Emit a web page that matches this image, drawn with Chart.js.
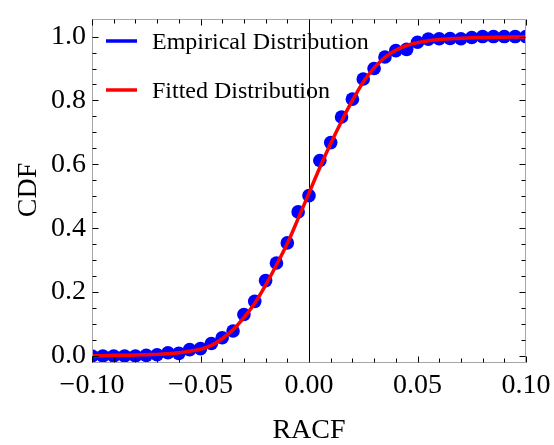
<!DOCTYPE html>
<html>
<head>
<meta charset="utf-8">
<script src="https://cdn.jsdelivr.net/npm/chart.js@4/dist/chart.umd.min.js"></script>
<style>
  html, body { margin: 0; padding: 0; background: #ffffff; }
  #wrap { width: 554px; height: 445px; position: relative; }
</style>
</head>
<body>
<div id="wrap"><canvas id="c" width="554" height="445"></canvas></div>
<script>
// ---- data ----
const racf = [-0.100,-0.095,-0.090,-0.085,-0.080,-0.075,-0.070,-0.065,-0.060,-0.055,
              -0.050,-0.045,-0.040,-0.035,-0.030,-0.025,-0.020,-0.015,-0.010,-0.005,
               0.000, 0.005, 0.010, 0.015, 0.020, 0.025, 0.030, 0.035, 0.040, 0.045,
               0.050, 0.055, 0.060, 0.065, 0.070, 0.075, 0.080, 0.085, 0.090, 0.095, 0.100];
const empiricalCDF = [0.000,0.000,0.000,0.000,0.000,0.002,0.004,0.010,0.008,0.020,
                      0.023,0.039,0.057,0.078,0.130,0.171,0.236,0.291,0.354,0.451,
                      0.502,0.612,0.668,0.748,0.804,0.867,0.900,0.936,0.956,0.960,
                      0.982,0.992,0.993,0.994,0.993,0.997,1.000,1.000,1.000,1.000,1.000];
const fittedCDF = [0.001,0.001,0.002,0.002,0.003,0.004,0.005,0.007,0.010,0.015,
                   0.021,0.033,0.054,0.082,0.120,0.165,0.222,0.285,0.352,0.430,
                   0.510,0.590,0.665,0.735,0.800,0.858,0.902,0.935,0.957,0.972,
                   0.981,0.987,0.991,0.993,0.995,0.996,0.997,0.998,0.998,0.999,0.999];
const xTicks = [-0.10, -0.05, 0.00, 0.05, 0.10];
const yTicks = [0.0, 0.2, 0.4, 0.6, 0.8, 1.0];
const xMinorStep = 0.01;
const yMinorStep = 0.05;
const seriesNames = ["Empirical Distribution", "Fitted Distribution"];
const axisTitles = { x: "RACF", y: "CDF" };

const SERIF = '"Liberation Serif", "DejaVu Serif", serif';

const toPts = (ys) => racf.map((x, i) => ({ x: x, y: ys[i] }));

const fmtX = (v) => {
  const s = Math.abs(v).toFixed(2);
  return (v < -1e-9 ? "\u2212" : "") + s;
};

const framePlugin = {
  id: 'frame',
  beforeDatasetsDraw(chart) {
    const { ctx, chartArea: a, scales: { x } } = chart;
    ctx.save();
    const x0 = Math.round(x.getPixelForValue(0)) + 0.5;
    ctx.strokeStyle = '#000';
    ctx.lineWidth = 1;
    ctx.beginPath();
    ctx.moveTo(x0, a.top);
    ctx.lineTo(x0, a.bottom);
    ctx.stroke();
    ctx.restore();
  },
  afterDatasetsDraw(chart) {
    const { ctx, chartArea: a, scales: { x, y } } = chart;
    ctx.save();
    ctx.strokeStyle = '#a6a6a6';
    ctx.lineWidth = 1;
    const L = Math.round(a.left) + 0.5, R = Math.round(a.right) - 0.5;
    const T = Math.round(a.top) + 0.5, B = Math.round(a.bottom) - 0.5;
    ctx.beginPath();
    ctx.moveTo(L, T); ctx.lineTo(R, T); ctx.lineTo(R, B); ctx.lineTo(L, B); ctx.closePath();
    ctx.stroke();
    ctx.strokeStyle = '#000';
    const isMajor = (v, arr) => arr.some(t => Math.abs(t - v) < 1e-9);
    ctx.beginPath();
    for (let k = -10; k <= 10; k++) {
      const v = k * xMinorStep;
      const px = Math.round(x.getPixelForValue(v)) + 0.5;
      const len = isMajor(v, xTicks) ? 6 : 4;
      ctx.moveTo(px, B); ctx.lineTo(px, B - len);
      ctx.moveTo(px, T); ctx.lineTo(px, T + len);
    }
    for (let k = 0; k <= 20; k++) {
      const v = k * yMinorStep;
      const py = Math.round(y.getPixelForValue(v)) + 0.5;
      const len = isMajor(v, yTicks) ? 6 : 4;
      ctx.moveTo(L, py); ctx.lineTo(L + len, py);
      ctx.moveTo(R, py); ctx.lineTo(R - len, py);
    }
    ctx.stroke();

    const items = [
      { label: seriesNames[0], color: '#0000ff', y: 41 },
      { label: seriesNames[1], color: '#ff0000', y: 90 }
    ];
    ctx.font = '24px ' + SERIF;
    ctx.textBaseline = 'middle';
    ctx.textAlign = 'left';
    items.forEach(it => {
      ctx.strokeStyle = it.color;
      ctx.lineWidth = 3.5;
      ctx.beginPath();
      ctx.moveTo(106, it.y); ctx.lineTo(137, it.y);
      ctx.stroke();
      ctx.fillStyle = '#000';
      ctx.fillText(it.label, 152, it.y + 2);
    });

    ctx.fillStyle = '#000';
    ctx.font = '28px ' + SERIF;
    ctx.textAlign = 'center';
    ctx.textBaseline = 'middle';
    ctx.fillText(axisTitles.x, (a.left + a.right) / 2, 431);
    ctx.translate(29, 190);
    ctx.rotate(-Math.PI / 2);
    ctx.fillText(axisTitles.y, 0, 0);
    ctx.restore();
  }
};

new Chart(document.getElementById('c'), {
  type: 'scatter',
  data: {
    datasets: [
      {
        label: seriesNames[1],
        type: 'line',
        data: toPts(fittedCDF),
        borderColor: '#ff0000',
        borderWidth: 3.5,
        pointRadius: 0,
        cubicInterpolationMode: 'monotone',
        fill: false,
        order: 0
      },
      {
        label: seriesNames[0],
        data: toPts(empiricalCDF),
        backgroundColor: '#0000ff',
        borderColor: '#0000ff',
        borderWidth: 0,
        pointRadius: 6.8,
        order: 1
      }
    ]
  },
  options: {
    responsive: false,
    animation: false,
    layout: { padding: { top: 19, right: 28, left: 0, bottom: 0 } },
    plugins: { legend: { display: false }, tooltip: { enabled: false } },
    scales: {
      x: {
        type: 'linear',
        min: -0.1, max: 0.1,
        grid: { display: false, drawTicks: false },
        border: { display: false },
        afterBuildTicks: (s) => { s.ticks = xTicks.map(v => ({ value: v })); },
        afterFit: (s) => { s.height = 82; s.paddingLeft = 0; s.paddingRight = 0; },
        ticks: {
          color: '#000',
          font: { family: SERIF, size: 28, lineHeight: 1 },
          padding: 9,
          maxRotation: 0,
          autoSkip: false,
          callback: (v) => fmtX(v)
        }
      },
      y: {
        type: 'linear',
        min: -0.022, max: 1.055,
        grid: { display: false, drawTicks: false },
        border: { display: false },
        afterBuildTicks: (s) => { s.ticks = yTicks.map(v => ({ value: v })); },
        afterFit: (s) => { s.width = 92; s.paddingTop = 0; s.paddingBottom = 0; },
        ticks: {
          color: '#000',
          font: { family: SERIF, size: 28, lineHeight: 1 },
          padding: 6,
          autoSkip: false,
          callback: (v) => Number(v).toFixed(1)
        }
      }
    }
  },
  plugins: [framePlugin]
});
</script>
</body>
</html>
